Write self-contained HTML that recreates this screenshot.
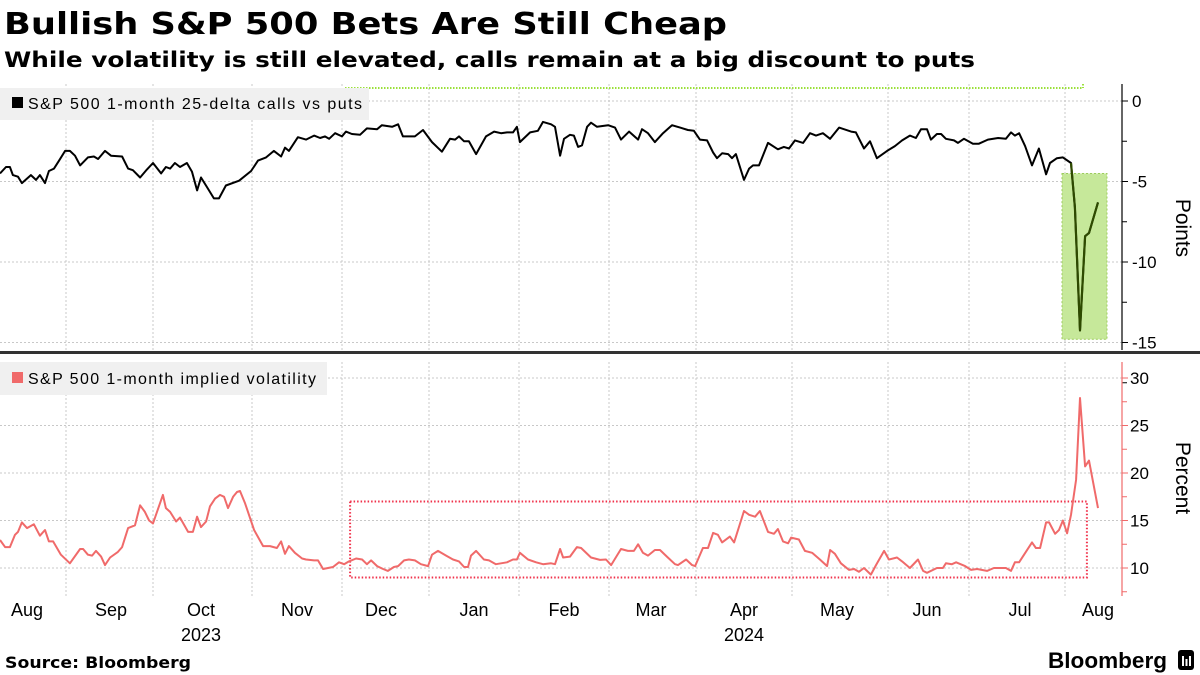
<!DOCTYPE html>
<html><head><meta charset="utf-8">
<style>
body{margin:0;background:#fff;width:1200px;height:675px;overflow:hidden;font-family:"Liberation Sans",sans-serif;}
svg{position:absolute;left:0;top:0;}
</style></head>
<body>
<svg id="chart" width="1200" height="675">
<text x="4" y="34" font-family="DejaVu Sans, sans-serif" font-weight="bold" font-size="30" textLength="723" lengthAdjust="spacingAndGlyphs">Bullish S&amp;P 500 Bets Are Still Cheap</text>
<text x="4" y="67" font-family="DejaVu Sans, sans-serif" font-weight="bold" font-size="21" textLength="971" lengthAdjust="spacingAndGlyphs">While volatility is still elevated, calls remain at a big discount to puts</text>
</svg>
<script>
const gridDays=[22,51,84,114,143,173,203,232,264,296,323,355];
const monthLabels=["Aug","Sep","Oct","Nov","Dec","Jan","Feb","Mar","Apr","May","Jun","Jul","Aug"];
const monthLabelDays=[9,37,67,99,127,158,188,217,248,279,309,340,366];
const yearLabels=["2023","2024"];
const yearLabelDays=[67,248];
const skewTicks=[0,-5,-10,-15];
const volTicks=[10,15,20,25,30];
const highlightStart=357;
const skewDays=[0,2,3.3,4.3,6,7.3,10.3,12,13.3,15,
16.3,18,19.7,21.7,23.3,25,26.7,29.3,31.3,32.7,
35,37,40.7,42.7,44.3,46.7,49,51,53.7,55.3,
56.7,58.3,60,62.3,64,65.7,67,69,71.3,73,
75.3,79.7,83.7,86,88.7,91.3,93.7,95,96.3,99.3,
102,104.7,106.7,108.3,109.7,111.7,114,115.3,117.3,120,
122.3,125.7,127.3,130.7,132.7,134.3,138.3,141,144,147.3,
150,151.7,153,154.7,156.3,158.7,162,164.7,167,169,
171,172.3,173.3,176.7,179.3,181,183.7,185,186.7,188,
190,191.3,192.7,194,195.7,197,199,202.7,205,207,
209.7,212.7,214,216,218.3,221,224,226.7,229.3,231.3,
233.3,235.7,237.7,239,240.7,242.7,244,245.3,248,249.7,
251,253,256,259.3,261.3,263,265,267.7,270,272,
274.3,276.7,279.7,283.7,285.3,288,290,292.3,295.7,298.3,
300.7,303.3,305.3,307,309,310.3,312.3,313.7,315.3,318,
319.3,321.3,324.3,326.3,329.3,332.7,335.3,337,338.3,339.7,
341.7,344,346.3,348.7,350,352.3,354.3,357,358.3,360,
361.7,363,366];
const skewValues=[-4.5,-4.1,-4.1,-4.6,-4.7,-5.1,-4.6,-4.9,-4.6,-5.1,
-4.35,-4.2,-3.7,-3.1,-3.1,-3.4,-4.0,-3.5,-3.45,-3.6,
-3.1,-3.4,-3.45,-4.2,-4.3,-4.75,-4.25,-3.85,-4.5,-4.1,
-4.2,-3.85,-4.1,-3.85,-4.4,-5.55,-4.75,-5.35,-6.05,-6.05,
-5.25,-4.95,-4.35,-3.7,-3.5,-3.1,-3.45,-2.9,-3.1,-2.25,
-2.4,-2.15,-2.3,-2.2,-2.35,-2.0,-2.2,-1.9,-2.05,-2.1,
-1.7,-1.75,-1.5,-1.6,-1.45,-2.2,-2.2,-1.8,-2.55,-3.15,
-2.35,-2.4,-2.2,-2.5,-2.5,-3.3,-2.2,-1.9,-2.0,-1.95,
-1.95,-1.6,-2.55,-1.95,-1.85,-1.3,-1.45,-1.6,-3.4,-2.35,
-2.1,-2.15,-2.85,-2.75,-1.6,-1.35,-1.6,-1.5,-1.65,-2.4,
-1.9,-2.4,-1.75,-2.0,-2.55,-2.0,-1.5,-1.65,-1.8,-1.85,
-2.4,-2.45,-3.2,-3.55,-3.25,-3.3,-3.55,-3.3,-4.9,-4.2,
-4.0,-4.0,-2.6,-3.0,-2.85,-2.95,-2.45,-2.6,-2.0,-2.15,
-2.0,-2.35,-1.65,-1.9,-1.95,-2.95,-2.5,-3.55,-3.1,-2.8,
-2.45,-2.15,-2.3,-1.75,-1.75,-2.4,-2.05,-2.05,-2.35,-2.45,
-2.6,-2.35,-2.65,-2.65,-2.4,-2.3,-2.35,-1.95,-2.15,-2.0,
-2.8,-4.0,-2.95,-4.55,-3.85,-3.55,-3.5,-3.85,-6.6,-14.25,
-8.4,-8.2,-6.3];
const volDays=[0,1.7,3.3,5,6,7.3,9,11.3,13.3,15,
16.3,17.7,20.3,23.3,26.7,27.7,29.3,30.7,32,33.7,
35,36.7,39.3,40.7,42.7,45,46.7,48.3,49.7,51,
54.3,55.3,56.7,58.7,60,62.7,64.3,65.7,67,68.7,
70,71.7,73.3,74.7,76,77.7,79,80,81.7,84.7,
87.7,90,92.3,93.7,95,96.3,98.3,100.7,102,104.7,
106,107.7,111,113,114.7,116.3,118.7,120.7,122.3,123.7,
125.7,127.7,129.3,131.3,132.7,134.7,136.3,138.3,140.3,142.7,
144,146,148.7,151,153,154.7,156,157,158.7,161.3,
163,165.3,169,171,172.3,173.3,176,178.7,181,183.7,
185,186.7,187.7,190,192.3,193.7,197,200,202,203.7,
207,209.3,211.3,212.7,214.3,216,218.3,220,222.3,225,
226,228.7,230.7,231.7,234.3,236,237.7,239.3,240.7,243.3,
244.7,248,249.7,251.7,253.3,256,258,259.3,261,262.7,
263.7,266.3,268.3,270.7,273.3,275.7,276.7,278.3,280.3,283,
284.7,286.3,288,290.3,292,294.7,296.3,299,300.7,303.3,
306,307.7,309,312.3,314.3,315.3,317.3,318.7,321.7,323.7,
325.7,329,331.3,335.3,337,338.3,339.7,344,345.3,346.7,
348.7,349.7,351.7,353,354.3,355.7,357,358.7,360,361.7,
363,366];
const volValues=[12.95,12.2,12.2,13.5,13.8,14.8,14.2,14.6,13.4,14.0,
12.8,12.8,11.4,10.5,12.0,12.0,11.4,11.3,11.8,11.2,
10.3,11.1,11.7,12.2,14.2,14.5,16.6,15.9,15.0,14.7,
17.7,16.3,15.9,14.9,15.3,13.8,13.8,15.4,14.3,14.9,
16.5,17.3,17.7,17.5,16.3,17.5,18.0,18.1,16.8,14.0,
12.3,12.3,12.1,12.8,11.5,12.3,11.6,11.0,10.9,10.8,
10.8,9.9,10.1,10.6,10.4,10.7,11.0,10.9,10.4,10.8,
10.2,9.9,9.7,10.1,10.2,10.8,10.9,10.8,10.4,10.2,
11.4,11.8,11.3,10.9,10.7,10.1,10.1,11.3,11.8,10.9,
10.8,10.4,10.6,10.9,10.9,11.6,10.9,10.6,10.4,10.5,
10.4,12.0,11.1,11.2,12.2,12.1,11.1,10.85,10.9,10.3,
12.0,11.8,11.8,12.5,11.6,11.3,11.9,11.9,11.2,10.4,
10.3,10.9,10.3,10.2,12.1,12.1,13.7,13.5,12.7,13.3,
12.7,16.0,15.6,15.4,16.0,13.8,13.6,14.1,12.8,12.6,
13.2,13.0,11.8,11.6,10.9,10.2,11.9,11.5,10.5,9.8,
9.9,9.6,10.0,9.3,10.3,11.8,10.9,11.1,10.7,10.0,
10.9,9.7,9.5,10.0,10.0,10.5,10.4,10.6,10.2,9.8,
9.9,9.7,10.0,10.0,9.7,10.6,10.6,12.7,12.1,12.1,
14.8,14.8,13.6,14.0,15.0,13.65,15.6,19.3,27.9,20.7,
21.3,16.3];

const NS="http://www.w3.org/2000/svg";
const svg=document.getElementById('chart');
function mk(tag,attrs,parent){const e=document.createElementNS(NS,tag);for(const k in attrs)e.setAttribute(k,attrs[k]);(parent||svg).appendChild(e);return e;}
const xS=d=>d*3;
const yTop=v=>101-v*16.1;
const yBot=v=>568-(v-10)*9.5;
const AX=1122;

gridDays.forEach(d=>{
  const g1=mk('line',{x1:xS(d),x2:xS(d),y1:84,y2:350,stroke:'#c8c8c8','stroke-dasharray':'2,2','stroke-width':1});
  
  
  const g2=mk('line',{x1:xS(d),x2:xS(d),y1:362,y2:596,stroke:'#c8c8c8','stroke-dasharray':'2,2','stroke-width':1});
  
  
});
skewTicks.forEach(v=>{
  const g=mk('line',{x1:0,x2:AX,y1:yTop(v),y2:yTop(v),stroke:'#c8c8c8','stroke-dasharray':'2,2'});
  
  
  const t=mk('line',{x1:AX,x2:AX+6,y1:yTop(v),y2:yTop(v),stroke:'#000'});
  
  
  const m=mk('line',{x1:AX,x2:AX+5,y1:yTop(v-2.5),y2:yTop(v-2.5),stroke:'#000'});
  
  
  const l=mk('text',{x:AX+10,y:yTop(v)+6,'font-size':17,fill:'#000'});
  l.textContent=v;
  
  
});
volTicks.forEach(v=>{
  const g=mk('line',{x1:0,x2:AX,y1:yBot(v),y2:yBot(v),stroke:'#c8c8c8','stroke-dasharray':'2,2'});
  
  
  const t=mk('line',{x1:AX,x2:AX+6,y1:yBot(v),y2:yBot(v),stroke:'#f06a6a'});
  
  
  const m=mk('line',{x1:AX,x2:AX+5,y1:yBot(v-2.5),y2:yBot(v-2.5),stroke:'#f06a6a'});
  
  
  const l=mk('text',{x:AX+8,y:yBot(v)+6,'font-size':17,fill:'#000'});
  l.textContent=v;
  
  
});

const ax1=mk('line',{x1:AX,x2:AX,y1:84,y2:350,stroke:'#000','stroke-width':1.2});


const ax2=mk('line',{x1:AX,x2:AX,y1:362,y2:596,stroke:'#f06a6a','stroke-width':1.2});


const sep=mk('rect',{x:0,y:351,width:1200,height:3,fill:'#333'});



const hl=mk('rect',{x:xS(354),y:yTop(-4.5),width:xS(369)-xS(354),height:yTop(-14.8)-yTop(-4.5),fill:'#c6e89a',stroke:'#9ccc5c','stroke-dasharray':'2,2'});


const gl=mk('line',{x1:xS(115),x2:xS(361),y1:88,y2:88,stroke:'#9be03a','stroke-width':2,'stroke-dasharray':'1.5,1.5'});


const gv=mk('line',{x1:xS(361),x2:xS(361),y1:84,y2:88,stroke:'#9be03a','stroke-width':2,'stroke-dasharray':'1.5,1.5'});


const rb=mk('rect',{x:xS(116.7),y:yBot(17),width:xS(362.3)-xS(116.7),height:yBot(9)-yBot(17),fill:'none',stroke:'#f0304a','stroke-width':2,'stroke-dasharray':'1.5,2'});



function path(days,vals,ys,filter){let d='';let first=true;days.forEach((dd,i)=>{if(filter&&!filter(dd))return;d+=(first?'M':'L')+xS(dd).toFixed(1)+','+ys(vals[i]).toFixed(1);first=false;});return d;}
const s1=mk('path',{d:path(skewDays,skewValues,yTop),fill:'none',stroke:'#000','stroke-width':2,'stroke-linejoin':'round'});


const s1h=mk('path',{d:path(skewDays,skewValues,yTop,d=>d>=highlightStart),fill:'none',stroke:'#2e4a00','stroke-width':2.2,'stroke-linejoin':'round'});


const s2=mk('path',{d:path(volDays,volValues,yBot),fill:'none',stroke:'#f06a6a','stroke-width':2,'stroke-linejoin':'round'});



const lg1=mk('rect',{x:0,y:88,width:369,height:32,fill:'#f0f0f0'});


const lk1=mk('rect',{x:12,y:97,width:11,height:11,fill:'#000'});


const lt1=mk('text',{x:28,y:109,'font-size':16,fill:'#000',textLength:334});
lt1.textContent='S&P 500 1-month 25-delta calls vs puts';


const lg2=mk('rect',{x:0,y:362,width:327,height:33,fill:'#f0f0f0'});


const lk2=mk('rect',{x:12,y:372,width:11,height:11,fill:'#f06a6a'});


const lt2=mk('text',{x:28,y:384,'font-size':16,fill:'#000',textLength:288});
lt2.textContent='S&P 500 1-month implied volatility';



monthLabels.forEach((m,i)=>{
  const t=mk('text',{x:xS(monthLabelDays[i]),y:616,'font-size':18,'text-anchor':'middle',fill:'#000'});
  t.textContent=m;
  
  
});
yearLabels.forEach((y,i)=>{
  const t=mk('text',{x:xS(yearLabelDays[i]),y:641,'font-size':18,'text-anchor':'middle',fill:'#000'});
  t.textContent=y;
  
  
});

const at1=mk('text',{x:0,y:0,'font-size':21,'text-anchor':'middle',fill:'#000',transform:'translate(1176,228) rotate(90)'});
at1.textContent='Points';


const at2=mk('text',{x:0,y:0,'font-size':21,'text-anchor':'middle',fill:'#000',transform:'translate(1176,478) rotate(90)'});
at2.textContent='Percent';



const src=mk('text',{x:5,y:668,'font-size':16,'font-family':'DejaVu Sans, sans-serif','font-weight':'bold',fill:'#000',textLength:186,lengthAdjust:'spacingAndGlyphs'});
src.textContent='Source: Bloomberg';


const bb=mk('text',{x:1048,y:668,'font-size':22,'font-weight':'bold',fill:'#000',textLength:119,lengthAdjust:'spacingAndGlyphs'});
bb.textContent='Bloomberg';


const bi=mk('rect',{x:1178,y:650,width:16,height:20,rx:3,fill:'#000'});


[0,1,2].forEach(i=>{
  const b=mk('rect',{x:1182+i*3.5,y:656+(i%2)*3,width:2,height:10-(i%2)*3,fill:'#fff'});
  
  
});
</script>
</body></html>
